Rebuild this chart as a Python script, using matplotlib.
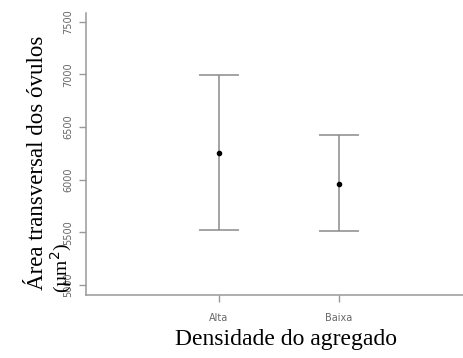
import matplotlib
import matplotlib.pyplot as plt

matplotlib.use('Agg')

# data
categories = ['Alta', 'Baixa']
means = [6250, 5960]
lower = [5520, 5510]
upper = [6990, 6420]
y_ticks = [5000, 5500, 6000, 6500, 7000, 7500]

W, H = 464, 358
fig = plt.figure(figsize=(W / 100, H / 100), dpi=100)
ax = fig.add_axes([86 / W, (H - 295) / H, (W - 86) / W, (295 - 13) / H])

xs = list(range(1, len(categories) + 1))
yerr = [[m - lo for m, lo in zip(means, lower)], [up - m for m, up in zip(means, upper)]]
ax.errorbar(xs, means, yerr=yerr, fmt='o', color='black', markersize=3,
            ecolor='#8a8a8a', elinewidth=1.1, capsize=14.5, capthick=1.1)

ax.set_xlim(-0.108, 3.04)
ax.set_ylim(4905, 7583)
ax.set_xticks(xs)
ax.set_xticklabels(categories)
ax.set_yticks(y_ticks)
ax.set_yticklabels([str(t) for t in y_ticks], rotation=90, va='center')

ax.spines['top'].set_visible(False)
ax.spines['right'].set_visible(False)
for s in ['left', 'bottom']:
    ax.spines[s].set_color('#999999')
    ax.spines[s].set_linewidth(1.1)
ax.tick_params(axis='both', colors='#999999', length=5, width=1, labelsize=7,
               labelcolor='#666666', pad=4)
ax.tick_params(axis='x', pad=8)

fig.text(286 / W, (H - 340) / H, 'Densidade do agregado',
         family='Liberation Serif', fontsize=17, ha='center', va='center')
# y label, two lines as in the reference (second line sits over the ticks)
fig.text(38 / W, (H - 290) / H, 'Área transversal dos óvulos',
         family='Liberation Serif', fontsize=16.5, rotation=90,
         ha='center', va='bottom')
fig.text(61 / W, (H - 293) / H, '(µm$^2$)',
         family='Liberation Serif', fontsize=14, rotation=90,
         ha='center', va='bottom')

fig.savefig('out.png', dpi=100)
